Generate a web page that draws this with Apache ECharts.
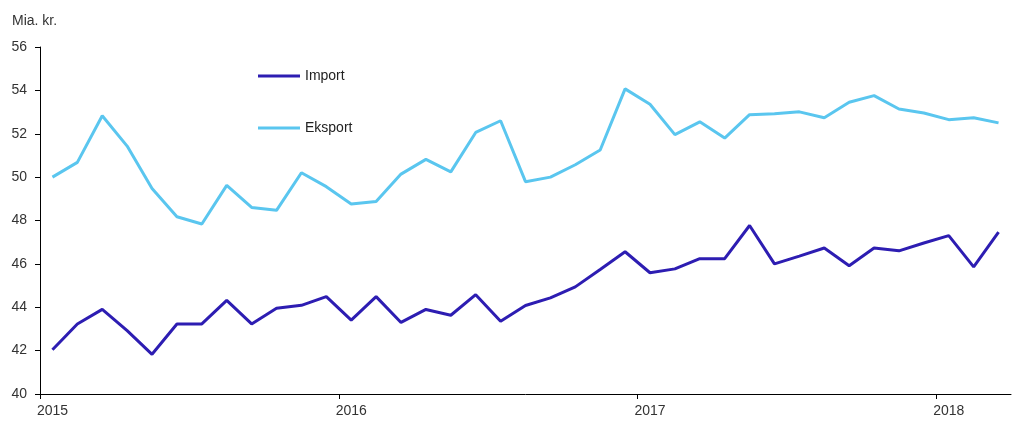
<!DOCTYPE html>
<html>
<head>
<meta charset="utf-8">
<script src="https://cdn.jsdelivr.net/npm/echarts@6/dist/echarts.min.js"></script>
<style>html,body{margin:0;padding:0;background:#fff;}#c{width:1013px;height:429px;}</style>
</head>
<body>
<div id="c"></div>
<script>
const months = [];
for (let y = 2015; y <= 2018; y++) {
  for (let m = 1; m <= 12; m++) {
    if (y === 2018 && m > 3) break;
    months.push(y + '-' + (m < 10 ? '0' + m : m));
  }
}
const importData = [42.04, 43.23, 43.9, 42.92, 41.83, 43.23, 43.23, 44.32, 43.23, 43.95, 44.09, 44.49,
  43.41, 44.49, 43.3, 43.9, 43.63, 44.58, 43.35, 44.08, 44.43, 44.94, 45.74, 46.56,
  45.59, 45.77, 46.24, 46.24, 47.77, 46.0, 46.36, 46.73, 45.91, 46.73, 46.6, 46.96,
  47.3, 45.86, 47.46];
const eksportData = [50.0, 50.68, 52.83, 51.43, 49.48, 48.17, 47.84, 49.62, 48.6, 48.47, 50.2, 49.56,
  48.76, 48.88, 50.14, 50.82, 50.24, 52.06, 52.6, 49.79, 50.0, 50.57, 51.25, 54.07,
  53.36, 51.96, 52.55, 51.8, 52.88, 52.92, 53.01, 52.74, 53.45, 53.76, 53.14, 52.96,
  52.65, 52.74, 52.5];
const yTicks = [40, 42, 44, 46, 48, 50, 52, 54, 56];
const yearLabelIdx = [0, 12, 24, 36];

const chart = echarts.init(document.getElementById('c'), null, {renderer: 'canvas'});
const font = 'Liberation Sans, Arial, sans-serif';
const toPairs = (arr) => arr.map((v, i) => [i, v]);
chart.setOption({
  animation: false,
  textStyle: {fontFamily: font},
  title: {
    text: 'Mia. kr.', left: 12, top: 14, padding: 0,
    textStyle: {fontSize: 14, fontWeight: 'normal', color: '#333', fontFamily: font}
  },
  legend: {
    orient: 'vertical', left: 258, top: 69, itemGap: 38, padding: 0,
    itemWidth: 42, itemHeight: 3, icon: 'rect',
    textStyle: {fontSize: 14, lineHeight: 14, color: '#222', fontFamily: font, padding: [0, 0, 0, 0]},
    data: ['Import', 'Eksport']
  },
  grid: {left: 40, right: 2, top: 47, bottom: 35, containLabel: false},
  xAxis: {
    type: 'value', min: -0.5, max: months.length - 0.5,
    axisLine: {show: true, onZero: false, lineStyle: {color: '#000', width: 1}},
    axisTick: {show: true, length: 5, lineStyle: {color: '#000', width: 1},
      customValues: yearLabelIdx.map(i => i - 0.5)},
    axisLabel: {
      customValues: yearLabelIdx, margin: 10, fontSize: 14, color: '#333', fontFamily: font,
      formatter: (v) => months[Math.round(v)] ? months[Math.round(v)].slice(0, 4) : ''
    },
    splitLine: {show: false}
  },
  yAxis: {
    type: 'value', min: yTicks[0], max: yTicks[yTicks.length - 1], interval: 2,
    axisLine: {show: true, onZero: false, lineStyle: {color: '#000', width: 1}},
    axisTick: {show: true, length: 5, lineStyle: {color: '#000'}},
    axisLabel: {margin: 13, fontSize: 14, color: '#333', fontFamily: font},
    splitLine: {show: false}
  },
  series: [
    {name: 'Import', type: 'line', data: toPairs(importData), symbol: 'none',
      lineStyle: {color: '#2D1DB2', width: 3}, itemStyle: {color: '#2D1DB2'}},
    {name: 'Eksport', type: 'line', data: toPairs(eksportData), symbol: 'none',
      lineStyle: {color: '#5AC6EF', width: 3}, itemStyle: {color: '#5AC6EF'}}
  ]
});
</script>
</body>
</html>
